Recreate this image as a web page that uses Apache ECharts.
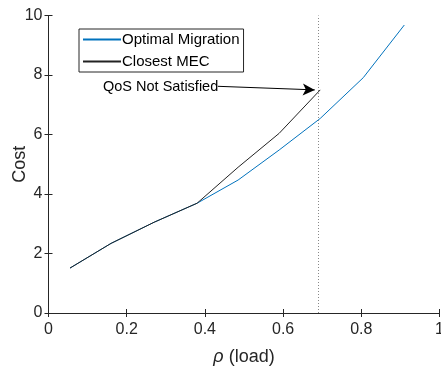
<!DOCTYPE html>
<html><head><meta charset="utf-8">
<script src="https://cdn.jsdelivr.net/npm/echarts@6/dist/echarts.min.js"></script>
<style>html,body{margin:0;padding:0;background:#fff}#c{width:441px;height:367px}</style>
</head><body><div id="c"></div>
<script>
const loadX = [0.055, 0.16, 0.27, 0.38, 0.485, 0.59, 0.695, 0.805, 0.91];
const optimalMigration = [1.51, 2.34, 3.05, 3.69, 4.47, 5.48, 6.54, 7.91, 9.68];
const closestMEC = [1.51, 2.34, 3.05, 3.69, 4.9, 6.04, 7.5];
const xTicks = [0, 0.2, 0.4, 0.6, 0.8, 1];
const yTicks = [0, 2, 4, 6, 8, 10];
const qosLimit = 0.69;
const arrowFrom = [0.433, 7.62];
const arrowTo = [0.681, 7.5];

const font = 'Liberation Sans, Arial, Helvetica, sans-serif';
const axisCol = '#262626';
const chart = echarts.init(document.getElementById('c'));
const pair = (xs, ys) => ys.map((v, i) => [xs[i], v]);
const baseAxis = {
  min: 0, axisLine: {show: true, lineStyle: {color: axisCol, width: 1}},
  axisTick: {show: true, inside: true, length: 4, lineStyle: {color: axisCol}},
  splitLine: {show: false}
};
chart.setOption({
  animation: false,
  grid: {left: 48.5, right: 1.5, top: 15.5, bottom: 54, containLabel: false, outerBoundsMode: 'none'},
  xAxis: [
    Object.assign({}, baseAxis, {type: 'value', max: 1, interval: 0.2, position: 'bottom',
      name: '{r|ρ} (load)', nameLocation: 'middle', nameGap: 35, nameMoveOverlap: false,
      nameTextStyle: {fontFamily: font, fontSize: 18, color: axisCol, rich: {r: {fontFamily: font, fontStyle: 'italic', fontSize: 18, color: axisCol}}},
      axisLabel: {fontFamily: font, fontSize: 16, color: axisCol, margin: 9,
        formatter: v => xTicks.includes(+v.toFixed(1)) ? String(+v.toFixed(1)) : ''}}),
    Object.assign({}, baseAxis, {type: 'value', max: 1, interval: 0.2, position: 'top', axisLabel: {show: false}})
  ],
  yAxis: [
    Object.assign({}, baseAxis, {type: 'value', max: 10, interval: 2, position: 'left',
      name: 'Cost', nameLocation: 'middle', nameGap: 19, nameMoveOverlap: false,
      nameTextStyle: {fontFamily: font, fontSize: 18, color: axisCol},
      axisLabel: {fontFamily: font, fontSize: 16, color: axisCol, margin: 6,
        formatter: v => yTicks.includes(v) ? String(v) : ''}}),
    Object.assign({}, baseAxis, {type: 'value', max: 10, interval: 2, position: 'right', axisLabel: {show: false}})
  ],
  legend: {
    orient: 'vertical', left: 79, top: 29, itemWidth: 38, itemHeight: 12, itemGap: 7,
    padding: [3, 4, 3, 3], borderColor: axisCol, borderWidth: 1, backgroundColor: '#fff',
    itemStyle: {opacity: 0},
    textStyle: {fontFamily: font, fontSize: 15, color: '#000', padding: [0, 0, 0, -4]},
    data: ['Optimal Migration', 'Closest MEC']
  },
  graphic: [{type: 'text', left: 103, top: 79,
    style: {text: 'QoS Not Satisfied', font: '14.5px ' + font, fill: '#000'}}],
  series: [
    {name: 'Optimal Migration', type: 'line', symbol: 'none', data: pair(loadX, optimalMigration),
      lineStyle: {color: '#0072BD', width: 1}, itemStyle: {color: '#0072BD'}, z: 3},
    {name: 'Closest MEC', type: 'line', symbol: 'none', data: pair(loadX, closestMEC),
      lineStyle: {color: '#222', width: 1}, itemStyle: {color: '#222'}, z: 4},
    {name: 'annot', type: 'line', data: [], silent: true,
      markLine: {silent: true, animation: false, symbol: ['none', 'none'], label: {show: false},
        lineStyle: {color: '#888', type: [1, 2], width: 1},
        data: [{xAxis: qosLimit}]}},
    {name: 'arrow', type: 'line', data: [], silent: true,
      markLine: {silent: true, animation: false, symbol: ['none', 'arrow'], symbolSize: [9, 12], label: {show: false},
        lineStyle: {color: '#000', type: 'solid', width: 1},
        data: [[{coord: arrowFrom}, {coord: arrowTo}]]}}
  ]
});
</script></body></html>
